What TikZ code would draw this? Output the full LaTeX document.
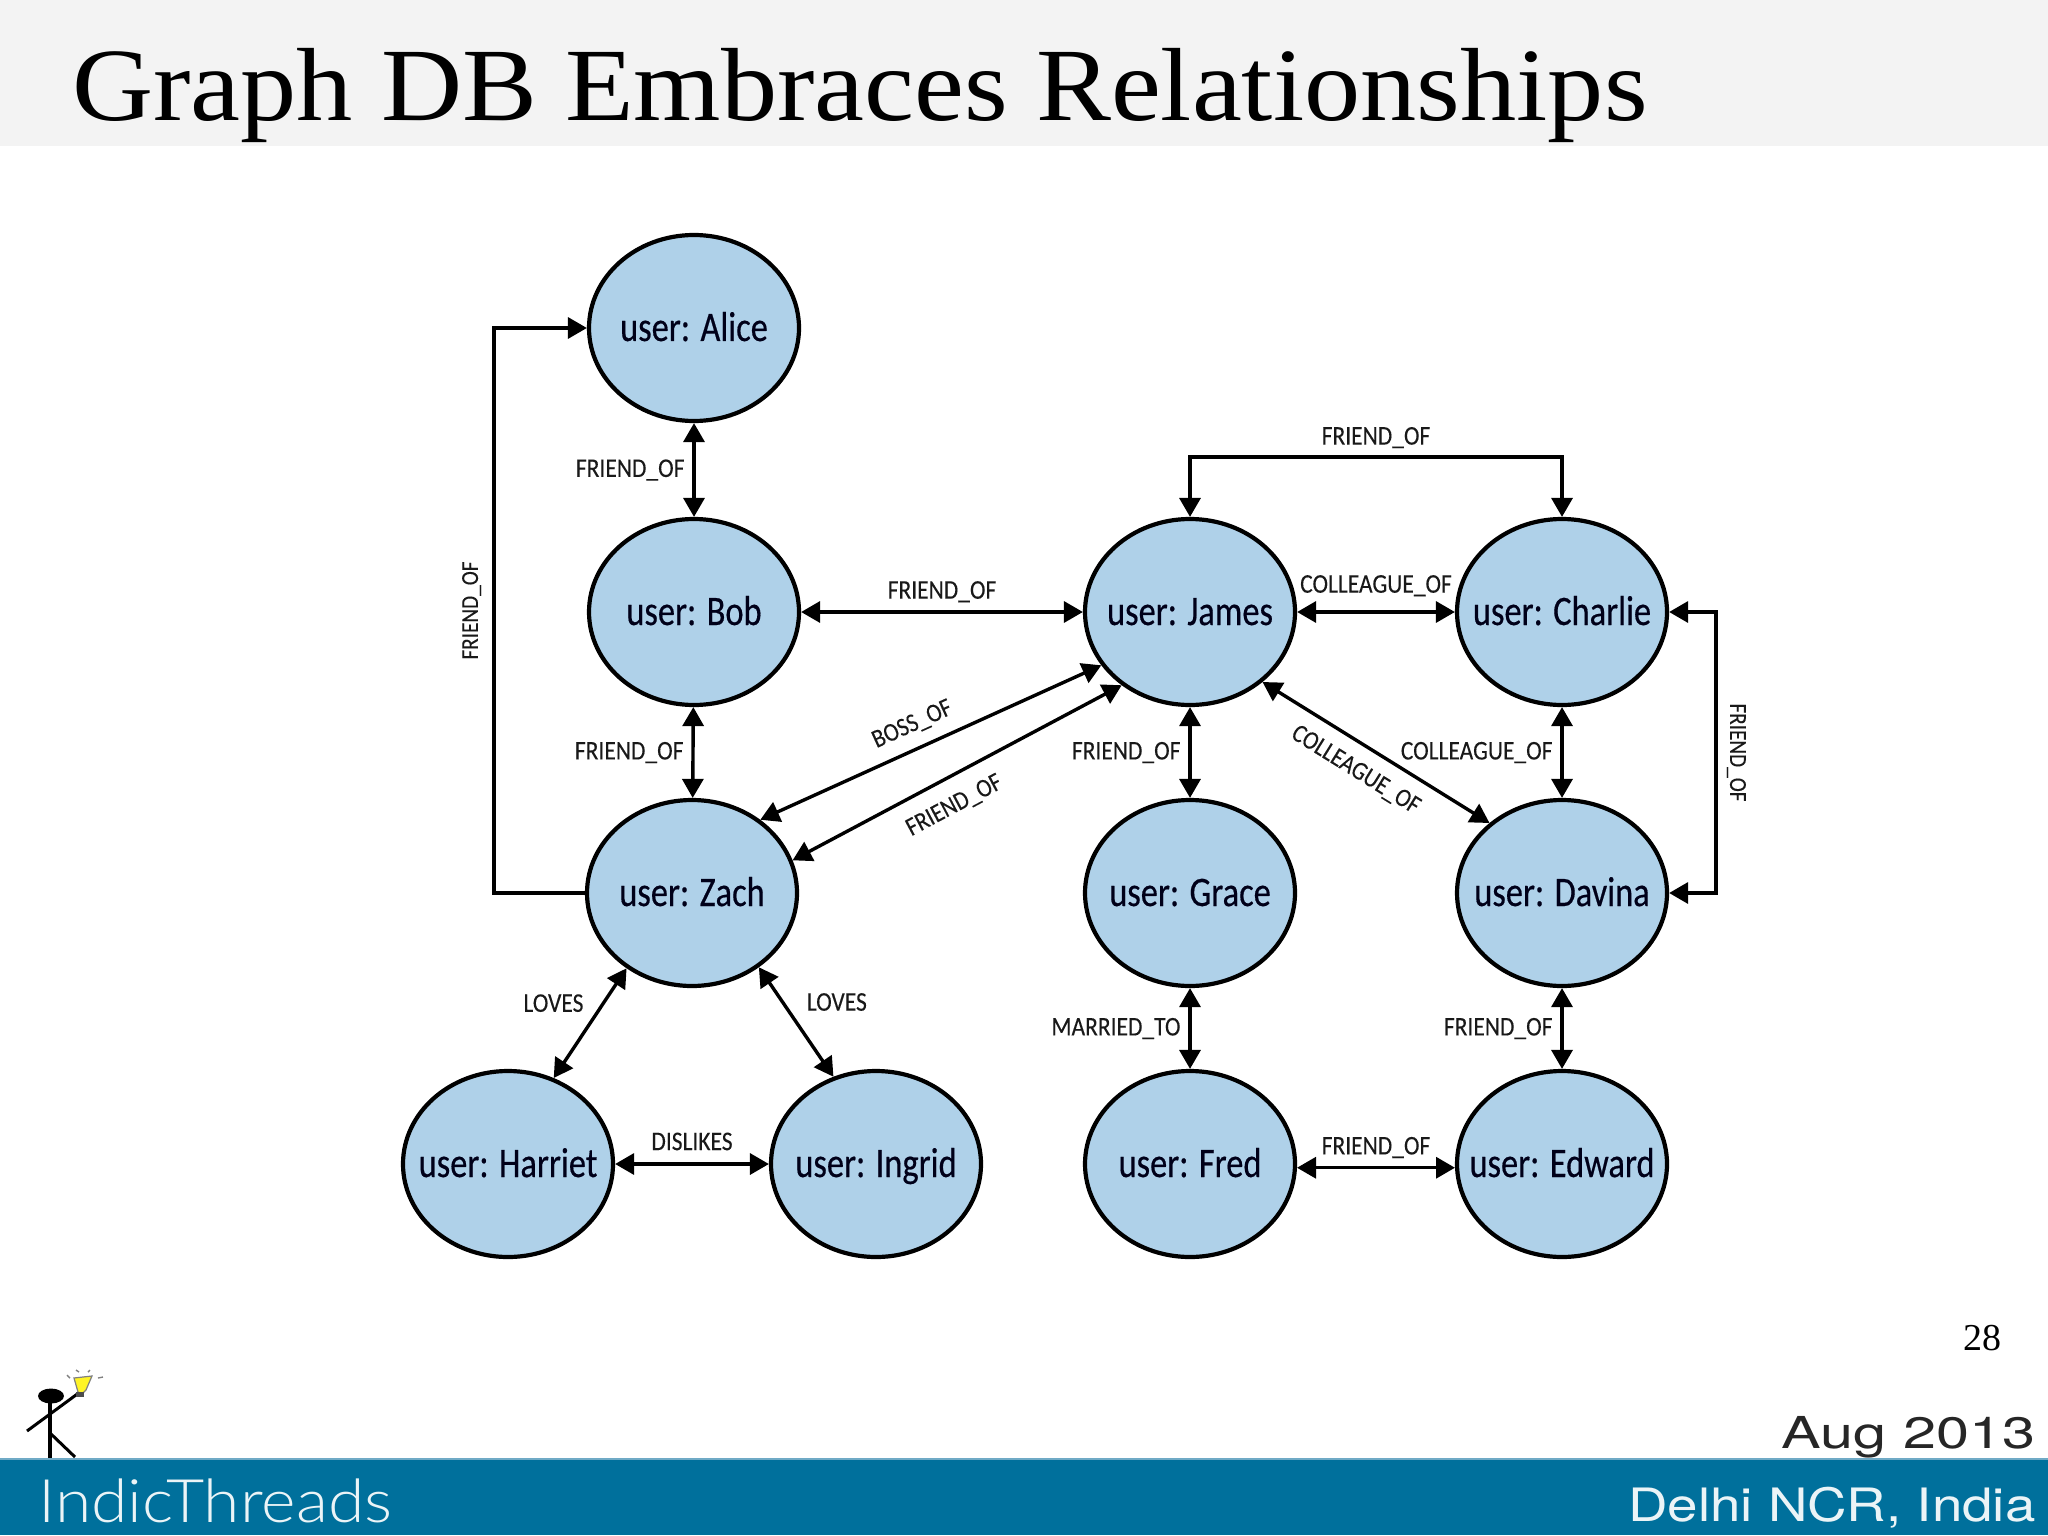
\documentclass[tikz,border=0pt]{standalone}
\usepackage{fontspec}
\usepackage{xcolor}
\usetikzlibrary{shapes.geometric,arrows.meta}
\setmainfont{Carlito}
\newfontfamily\titlefont[FakeStretch=1.08]{Liberation Serif}
\newfontfamily\labelfont[FakeStretch=0.87,FakeBold=0.15]{Carlito}
\newfontfamily\userfont[FakeStretch=0.82,FakeBold=0.4]{Carlito}
\newfontfamily\wordfont[FakeStretch=1.1]{Lato Light}
\newfontfamily\widefont[FakeStretch=1.35]{TeX Gyre Heros}
\newfontfamily\placefont[FakeStretch=1.19]{TeX Gyre Heros}
\newfontfamily\numfont{Liberation Serif}
\definecolor{nodeblue}{HTML}{AFD1E9}
\definecolor{barblue}{HTML}{00709C}
\definecolor{barline}{HTML}{6FAAC6}
\definecolor{titlegrey}{HTML}{F3F3F3}
\tikzset{
  user/.style={ellipse, draw=black, line width=2.1pt, fill=nodeblue, inner sep=0pt, inner xsep=-14pt,
    minimum width=105pt, minimum height=93pt, text height=16pt, text depth=3pt,
    font=\userfont\fontsize{21}{21}\selectfont, text=black!90!blue},
  rel/.style={<->, line width=1.7pt},
  lbl/.style={inner sep=0pt, font=\labelfont\fontsize{13.5}{13.5}\selectfont, text=black!90},
  lblsmall/.style={lbl, font=\labelfont\fontsize{12.2}{12.2}\selectfont},
  lbldiag/.style={lbl, font=\labelfont\fontsize{13}{13}\selectfont},
}
\begin{document}
\begin{tikzpicture}[>={Triangle[length=9.5pt,width=10.5pt]}, x=0.5pt, y=-0.5pt]
      \useasboundingbox (0,0) rectangle (2048,1535);
      \fill[titlegrey] (0,0) rectangle (2048,146);
      \fill[barblue] (0,1458) rectangle (2048,1535);
      \fill[barline] (0,1458) rectangle (2048,1460);
      \node[anchor=base west, inner sep=0pt, font=\titlefont\fontsize{52}{52}\selectfont] (title) at (72,121) {Graph DB Embraces Relationships};

      \node[user] (alice) at (694,328) {user: Alice};
      \node[user] (bob) at (694,612) {user: Bob};
      \node[user] (james) at (1190,612) {user: James};
      \node[user] (charlie) at (1562,612) {user: Charlie};
      \node[user] (zach) at (692,893) {user: Zach};
      \node[user] (grace) at (1190,893) {user: Grace};
      \node[user] (davina) at (1562,893) {user: Davina};
      \node[user] (harriet) at (508,1164) {user: Harriet};
      \node[user] (ingrid) at (876,1164) {user: Ingrid};
      \node[user] (fred) at (1190,1164) {user: Fred};
      \node[user] (edward) at (1562,1164) {user: Edward};

      \draw[rel] (alice) -- (bob) node[lbl, midway, left=3.9pt] (ab) {FRIEND\_OF};
      \draw[rel] (bob) -- (zach) node[lbl, midway, left=3.9pt] (bz) {FRIEND\_OF};
      \draw[rel] (bob) -- (james) node[lbl, midway, above=4pt] (bj) {FRIEND\_OF};
      \draw[rel] (james) -- (charlie) node[lbl, midway, above=7pt] (jc) {COLLEAGUE\_OF};
      \draw[rel] (james) -- (grace) node[lbl, midway, left=3.9pt] (jg) {FRIEND\_OF};
      \draw[rel] (charlie) -- (davina) node[lbl, midway, left=3.9pt] (cd) {COLLEAGUE\_OF};
      \draw[rel] (grace) -- (fred) node[lbl, midway, left=3.9pt] (gf) {MARRIED\_TO};
      \draw[rel] (davina) -- (edward) node[lbl, midway, left=3.9pt] (de) {FRIEND\_OF};
      \draw[rel] (harriet) -- (ingrid) node[lbl, midway, above=6pt] (hi) {DISLIKES};
      \draw[rel] (fred.358) -- (edward.182) node[lbl, midway, above=4pt] (fe) {FRIEND\_OF};

      \draw[rel] (james.211) -- (zach.47) node[lbldiag, pos=0.525, above=6pt, sloped] (jzb) {BOSS\_OF};
      \draw[rel] (james.227) -- (zach.18) node[lbldiag, pos=0.548, below=8pt, sloped] (jzf) {FRIEND\_OF};
      \draw[rel] (james.316) -- (davina.136) node[lbldiag, pos=0.47, below=7pt, sloped] (jd) {COLLEAGUE\_OF};
      \draw[rel] (zach.229) -- (harriet.62) node[lbl, midway, left=2.5pt, yshift=10pt] (zh) {LOVES};
      \draw[rel] (zach.312) -- (ingrid.116) node[lbl, midway, right=4.5pt, yshift=10pt] (zi) {LOVES};

      \draw[->, line width=1.7pt] (zach.west) -- ++(-91,0) |- (alice.west) node[lblsmall, pos=0.25, anchor=south, rotate=90, inner ysep=5.5pt] (za) {FRIEND\_OF};
      \draw[rel] (james.north) -- ++(0,-60) -| (charlie.north) node[lbl, pos=0.25, above=3.5pt] (top) {FRIEND\_OF};
      \draw[rel] (charlie.east) -- ++(47,0) |- (davina.east) node[lblsmall, pos=0.25, anchor=south, rotate=-90, inner ysep=4.5pt] (right) {FRIEND\_OF};

      \node[anchor=base east, inner sep=0pt, font=\numfont\fontsize{19}{19}\selectfont] (page) at (2002,1350) {28};
      \node[anchor=base east, inner sep=0pt, font=\widefont\fontsize{22}{22}\selectfont, text=black!85] (date) at (2036,1448) {Aug 2013};
      \node[anchor=base east, inner sep=0pt, font=\placefont\fontsize{23}{23}\selectfont, text=white!92!barblue] (place) at (2036,1521) {Delhi NCR, India};
      \node[anchor=base west, inner sep=0pt, font=\wordfont\fontsize{30}{30}\selectfont, text=white!92!barblue] (brand) at (38,1522) {IndicThreads};

      % stick figure with bulb
      \fill (51,1396) ellipse (13 and 7.5);
      \draw[line width=2pt] (50,1400) -- (50,1458);
      \draw[line width=1.5pt] (27,1431) -- (80,1392);
      \draw[line width=1.5pt] (50,1433) -- (75,1457);
      \filldraw[fill=yellow!85!white, draw=black!50, line width=0.6pt] (74,1378) -- (92,1376) -- (86,1390) -- (82,1394) -- (78,1392) -- cycle;
      \fill[black!70] (76,1392) rectangle (84,1397);
      \foreach \ax/\ay/\bx/\by in {67/1375/70/1378, 76/1370/79/1372, 90/1370/88/1372, 98/1378/103/1377}
        \draw[black!50, line width=0.7pt] (\ax,\ay) -- (\bx,\by);
\end{tikzpicture}
\end{document}
